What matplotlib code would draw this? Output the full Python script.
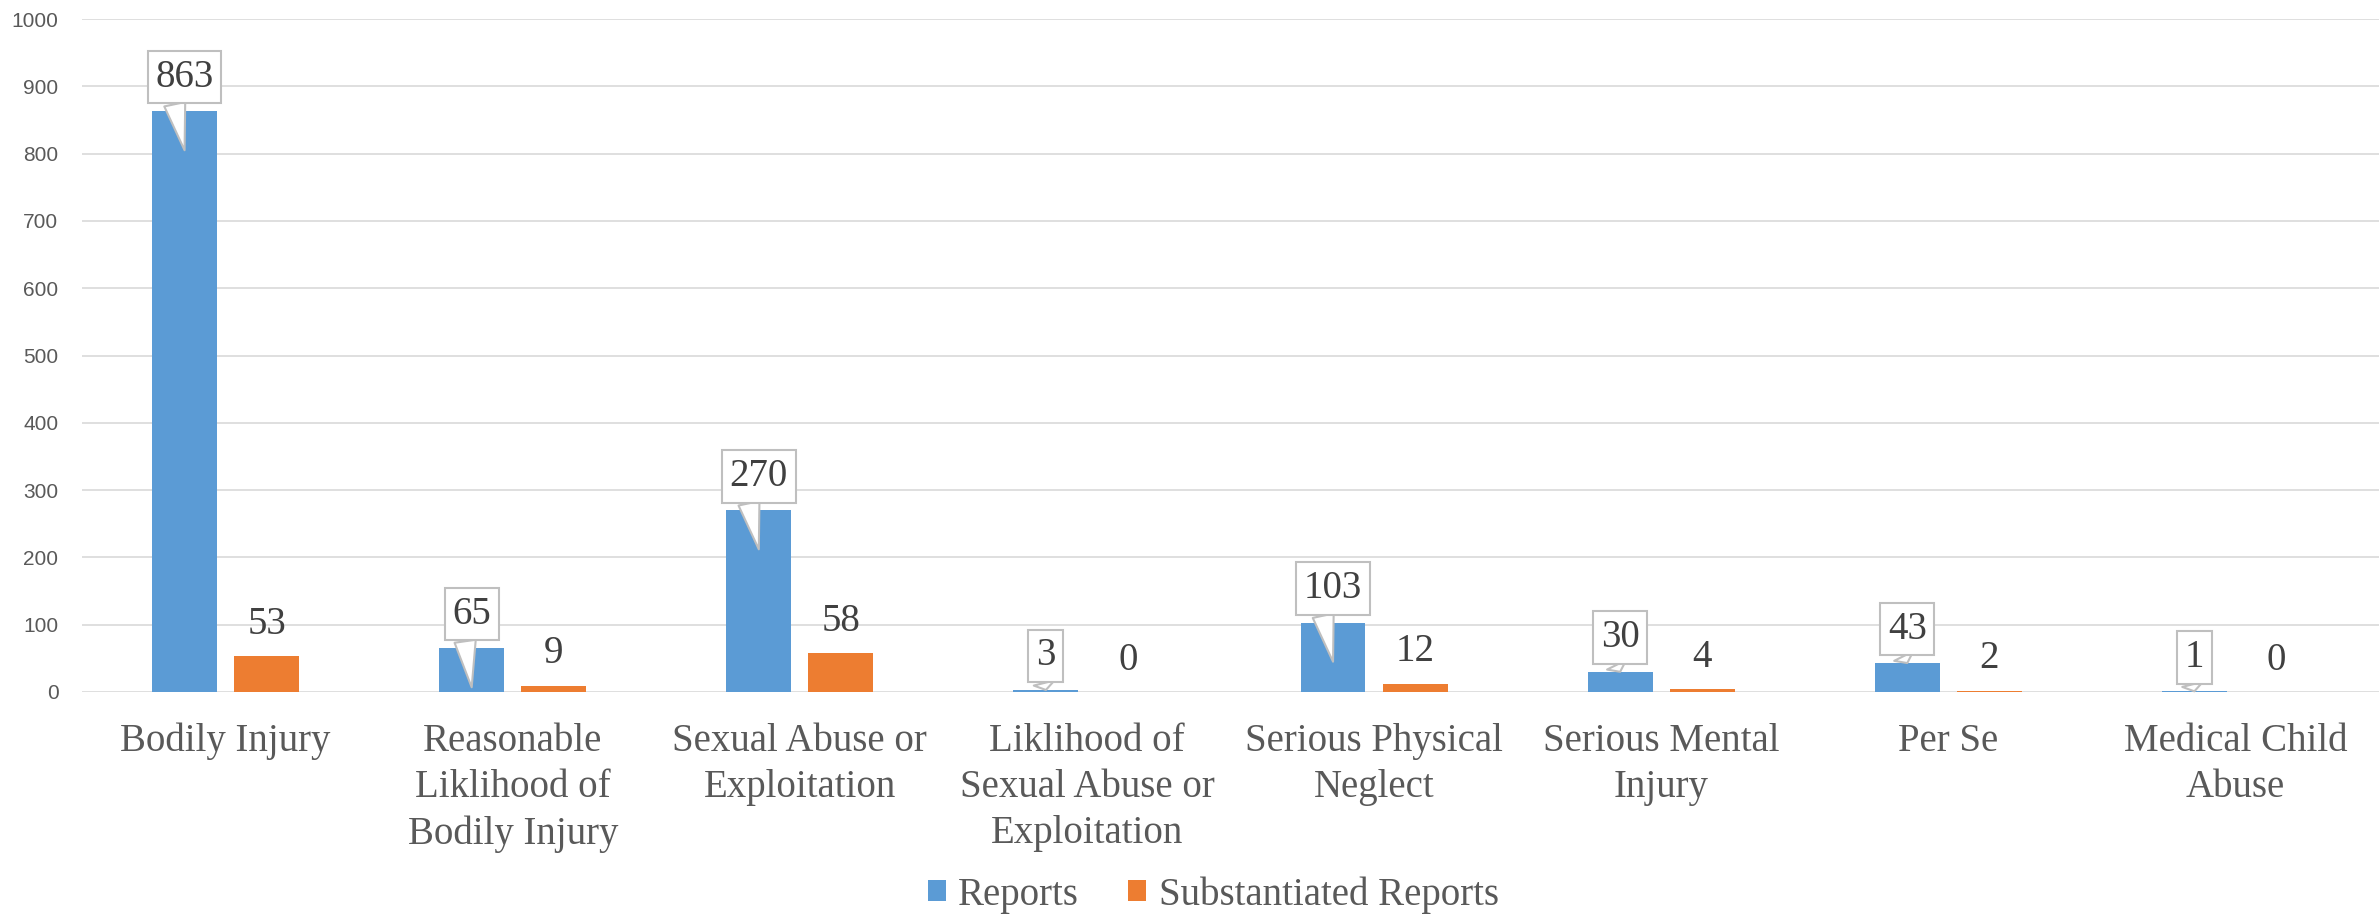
import matplotlib
matplotlib.use("Agg")
import matplotlib.pyplot as plt
import matplotlib.transforms as mtransforms
import numpy as np
from matplotlib.patches import Rectangle

categories = [
    "Bodily Injury",
    "Reasonable\nLiklihood of\nBodily Injury",
    "Sexual Abuse or\nExploitation",
    "Liklihood of\nSexual Abuse or\nExploitation",
    "Serious Physical\nNeglect",
    "Serious Mental\nInjury",
    "Per Se",
    "Medical Child\nAbuse",
]
reports = [863, 65, 270, 3, 103, 30, 43, 1]
substantiated = [53, 9, 58, 0, 12, 4, 2, 0]
series_names = ["Reports", "Substantiated Reports"]

BLUE = "#5B9BD5"
ORANGE = "#ED7D31"
GRID = "#D9D9D9"
LABEL_GRAY = "#595959"
VALUE_GRAY = "#404040"
SERIF = ["Liberation Serif", "DejaVu Serif"]
SANS = ["Liberation Sans", "DejaVu Sans"]

fig = plt.figure(figsize=(23.79, 9.14), dpi=100)
ax = fig.add_axes([0.0345, 0.2429, 0.9655, 0.7363])

x = np.arange(len(categories))
width = 0.226
offset = 0.143

ax.bar(x - offset, reports, width, color=BLUE, zorder=2)
ax.bar(x + offset, substantiated, width, color=ORANGE, zorder=2)

ax.set_xlim(-0.5, len(categories) - 0.5)
ax.set_ylim(0, 1000)
ax.set_yticks(np.arange(0, 1001, 100))
ax.yaxis.grid(True, color=GRID, linewidth=1.2, zorder=0)
ax.set_axisbelow(True)
for s in ax.spines.values():
    s.set_visible(False)

ax.tick_params(axis="y", length=0, pad=17, labelsize=15, labelcolor=LABEL_GRAY)
for lbl in ax.get_yticklabels():
    lbl.set_family(SANS)

ax.set_xticks(x)
ax.set_xticklabels(categories, fontsize=28, color=LABEL_GRAY, family=SERIF,
                   linespacing=1.33)
ax.tick_params(axis="x", length=0, pad=22)

# callouts above the Reports bars: box sits just above bar top,
# pointer drops into the bar when there is room
box_shift = mtransforms.ScaledTranslation(0, 24.5 / 72, fig.dpi_scale_trans)
box_trans = ax.transData + box_shift
for xi, v in zip(x - offset, reports):
    tip = v - 58 if v > 58 else v
    ax.annotate(
        str(v), xy=(xi, tip), xycoords="data",
        xytext=(xi, v), textcoords=box_trans,
        ha="center", va="center", fontsize=28, color=VALUE_GRAY, family=SERIF,
        bbox=dict(boxstyle="square,pad=0.2", fc="white", ec="#BFBFBF", lw=1.5),
        arrowprops=dict(arrowstyle="wedge,tail_width=0.55", fc="white",
                        ec="#BFBFBF", lw=1.5, relpos=(0.3, 0),
                        shrinkA=0, shrinkB=0),
        zorder=5,
    )

for xi, v in zip(x + offset, substantiated):
    ax.annotate(
        str(v), xy=(xi, v), xytext=(0, 23), textcoords="offset points",
        ha="center", va="center", fontsize=28, color=VALUE_GRAY, family=SERIF,
        zorder=5,
    )

handles = [Rectangle((0, 0), 1, 1, fc=BLUE), Rectangle((0, 0), 1, 1, fc=ORANGE)]
leg = fig.legend(
    handles, series_names, loc="center", bbox_to_anchor=(0.510, 0.021),
    ncol=2, frameon=False, handlelength=0.46, handleheight=0.46,
    handletextpad=0.33, columnspacing=1.26, borderpad=0,
    prop={"family": SERIF, "size": 28},
)
for t in leg.get_texts():
    t.set_color(LABEL_GRAY)

fig.savefig("out.png", dpi=100, facecolor="white")
